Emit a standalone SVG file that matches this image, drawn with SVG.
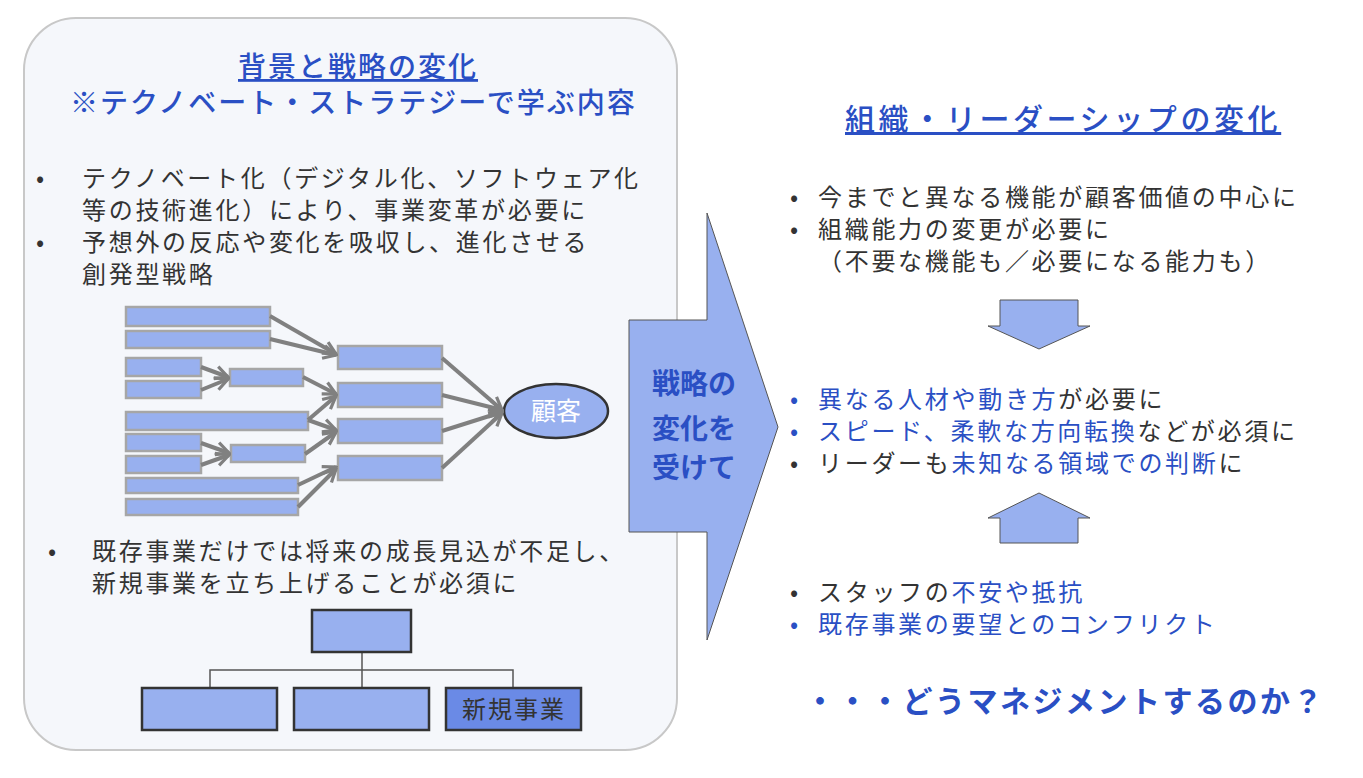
<svg xmlns="http://www.w3.org/2000/svg" width="1363" height="778" viewBox="0 0 1363 778">
<defs>
<style>
text{font-family:"Noto Sans CJK JP","Noto Sans",sans-serif;}
.b{font-size:24px;fill:#333;letter-spacing:2.7px;}
.bl{fill:#2a4fc4;}
.t{font-size:28px;fill:#2a4fc4;font-weight:500;letter-spacing:2px;}
.r{fill:#98b0ef;stroke:#a6a6a6;stroke-width:2.5;}
.o{fill:#98b0ef;stroke:#333;stroke-width:2.5;}
.c{stroke:#808080;stroke-width:4;fill:none;marker-end:url(#ah);}
.l{stroke:#555;stroke-width:1.5;fill:none;}
.ar{fill:#98b0ef;stroke:#555;stroke-width:1;}
</style>
<marker id="ah" viewBox="0 0 10 10" refX="9" refY="5" markerWidth="4" markerHeight="4" orient="auto" markerUnits="strokeWidth"><path d="M1,1 L9,5 L1,9" fill="none" stroke="#808080" stroke-width="2"/></marker>
</defs>
<rect width="1363" height="778" fill="#fff"/>
<g id="panel"><rect x="24" y="18" width="653" height="732" rx="52" fill="#f5f7fb" stroke="#c8c8c8" stroke-width="2"/></g>
<g id="left-title">
<text x="238" y="77" class="t" text-decoration="underline">背景と戦略の変化</text>
<text x="70" y="113" class="t">※テクノベート・ストラテジーで学ぶ内容</text>
</g>
<g id="left-bullets" class="b">
<text x="36" y="187">•</text><text x="82" y="187">テクノベート化（デジタル化、ソフトウェア化</text>
<text x="82" y="219">等の技術進化）により、事業変革が必要に</text>
<text x="36" y="251">•</text><text x="82" y="251">予想外の反応や変化を吸収し、進化させる</text>
<text x="82" y="283">創発型戦略</text>
<text x="48" y="560">•</text><text x="92" y="560">既存事業だけでは将来の成長見込が不足し、</text>
<text x="92" y="592">新規事業を立ち上げることが必須に</text>
</g>
<g id="strategy-boxes">
<rect class="r" x="126" y="307" width="144" height="19"/>
<rect class="r" x="126" y="331" width="144" height="17"/>
<rect class="r" x="126" y="358" width="75" height="18"/>
<rect class="r" x="126" y="381" width="75" height="17"/>
<rect class="r" x="126" y="412" width="182" height="18"/>
<rect class="r" x="126" y="434" width="75" height="17"/>
<rect class="r" x="126" y="456" width="75" height="17"/>
<rect class="r" x="126" y="478" width="172" height="15"/>
<rect class="r" x="126" y="499" width="172" height="16"/>
<rect class="r" x="230" y="369" width="73" height="17"/>
<rect class="r" x="231" y="445" width="74" height="17"/>
<rect class="r" x="338" y="346" width="104" height="23"/>
<rect class="r" x="338" y="383" width="104" height="24"/>
<rect class="r" x="338" y="419" width="104" height="24"/>
<rect class="r" x="338" y="456" width="104" height="24"/>
</g>
<g id="customer"><ellipse cx="556" cy="411" rx="52" ry="27" class="o"/><text x="556" y="420" text-anchor="middle" font-size="25" fill="#fff">顧客</text></g>
<g id="connectors">
<path class="c" d="M270,316 L336,354"/>
<path class="c" d="M270,339 L336,355"/>
<path class="c" d="M201,367 L228,377"/>
<path class="c" d="M201,390 L228,379"/>
<path class="c" d="M303,377 L336,394"/>
<path class="c" d="M308,420 L336,396"/>
<path class="c" d="M308,420 L336,430"/>
<path class="c" d="M305,454 L336,432"/>
<path class="c" d="M201,443 L229,453"/>
<path class="c" d="M201,465 L229,455"/>
<path class="c" d="M298,485 L336,467"/>
<path class="c" d="M298,507 L336,469"/>
<path class="c" d="M442,358 L502,410"/>
<path class="c" d="M442,395 L502,410"/>
<path class="c" d="M442,431 L502,412"/>
<path class="c" d="M442,468 L502,413"/>
<path class="l" d="M362,652 V670 M210,688 V670 H513 V688 M362,670 V688"/>
</g>
<g id="org">
<rect class="o" x="312" y="610" width="99" height="42"/>
<rect class="o" x="142" y="688" width="135" height="42"/>
<rect class="o" x="294" y="688" width="135" height="42"/>
<rect x="446" y="688" width="135" height="42" fill="#6a8ae6" stroke="#333" stroke-width="2.5"/>
<text x="462" y="718" font-size="24" letter-spacing="2" fill="#333">新規事業</text>
</g>
<g id="big-arrow">
<path d="M629,320 H707 V213 L778,427 L707,640 V532 H629 Z" fill="#98b0ef" stroke="#555" stroke-width="1"/>
<text x="694" y="394" text-anchor="middle" font-size="28" font-weight="bold" fill="#2a4fc4">戦略の</text>
<text x="694" y="439" text-anchor="middle" font-size="28" font-weight="bold" fill="#2a4fc4">変化を</text>
<text x="694" y="478" text-anchor="middle" font-size="28" font-weight="bold" fill="#2a4fc4">受けて</text>
</g>
<g id="right-title"><text x="845" y="130" font-size="30" letter-spacing="3.6" fill="#2a4fc4" font-weight="500" text-decoration="underline">組織・リーダーシップの変化</text></g>
<g id="right-top" class="b">
<text x="790" y="206">•</text><text x="818" y="206">今までと異なる機能が顧客価値の中心に</text>
<text x="790" y="238">•</text><text x="818" y="238">組織能力の変更が必要に</text>
<text x="818" y="270">（不要な機能も／必要になる能力も）</text>
</g>
<g id="down-arrow"><path class="ar" d="M1000,300 H1078 V326 H1090 L1039,349 L988,326 H1000 Z"/></g>
<g id="right-mid" class="b">
<text x="790" y="408" class="bl">•</text><text x="818" y="408"><tspan class="bl">異なる人材や動き方</tspan>が必要に</text>
<text x="790" y="440" class="bl">•</text><text x="818" y="440"><tspan class="bl">スピード、柔軟な方向転換</tspan>などが必須に</text>
<text x="790" y="472">•</text><text x="818" y="472">リーダーも<tspan class="bl">未知なる領域での判断</tspan>に</text>
</g>
<g id="up-arrow"><path class="ar" d="M1000,543 H1078 V518 H1090 L1039,493 L988,518 H1000 Z"/></g>
<g id="right-bottom" class="b">
<text x="790" y="601">•</text><text x="818" y="601">スタッフの<tspan class="bl">不安や抵抗</tspan></text>
<text x="790" y="633" class="bl">•</text><text x="818" y="633" class="bl">既存事業の要望とのコンフリクト</text>
</g>
<g id="question"><text x="805" y="712" font-size="30" letter-spacing="2.5" font-weight="bold" fill="#2a4fc4">・・・どうマネジメントするのか？</text></g>
</svg>
